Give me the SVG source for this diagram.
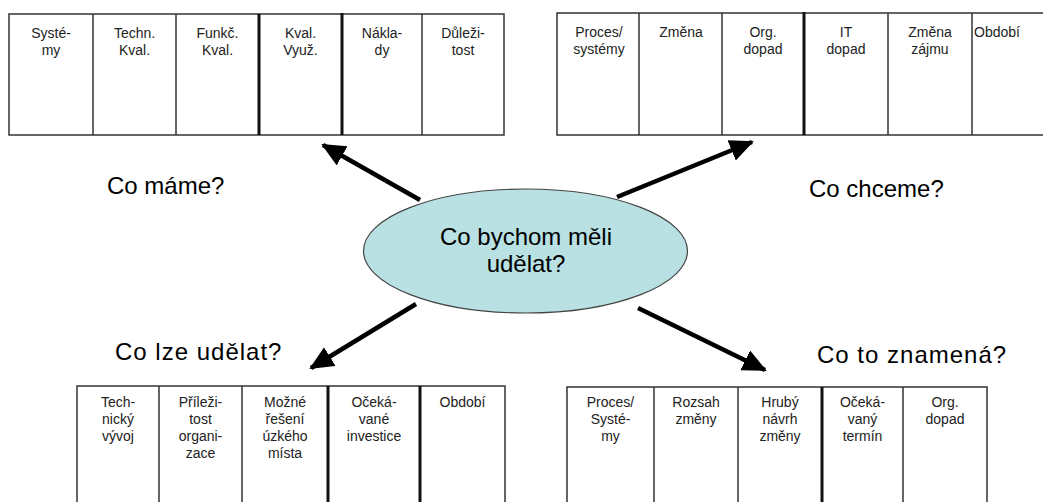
<svg xmlns="http://www.w3.org/2000/svg" width="1043" height="502" viewBox="0 0 1043 502">
  <style>
    .grid { stroke: #333; stroke-width: 1.5; fill: none; }
    .thick { stroke: #111; stroke-width: 3; }
    .cell { font-family: "Liberation Sans", Arial, sans-serif; font-size: 14px; fill: #222; text-anchor: middle; }
    .q { font-family: "Liberation Sans", Arial, sans-serif; font-size: 24px; fill: #000; }
    .wide { letter-spacing: 1px; }
    .center { font-family: "Liberation Sans", Arial, sans-serif; font-size: 24px; fill: #000; text-anchor: middle; }
    .arrow { stroke: #000; stroke-width: 4.5; fill: none; marker-end: url(#head); }
  </style>
  <defs>
    <marker id="head" markerUnits="userSpaceOnUse" markerWidth="26" markerHeight="24" refX="22" refY="11" orient="auto">
      <path d="M0,0 L24,11 L0,22 Z" fill="#000"/>
    </marker>
  </defs>
  <rect width="1043" height="502" fill="#fff"/>

  <!-- Top-left table: current state -->
  <g id="table-have">
    <rect class="grid" x="9" y="14" width="495" height="121"/>
    <line class="grid" x1="93" y1="14" x2="93" y2="135"/>
    <line class="grid" x1="176" y1="14" x2="176" y2="135"/>
    <line class="grid thick" x1="259" y1="14" x2="259" y2="135"/>
    <line class="grid thick" x1="342" y1="13" x2="342" y2="135"/>
    <line class="grid" x1="422" y1="14" x2="422" y2="135"/>
    <text class="cell" x="51" y="38">Systé-<tspan x="51" dy="17">my</tspan></text>
    <text class="cell" x="134.5" y="38">Techn.<tspan x="134.5" dy="17">Kval.</tspan></text>
    <text class="cell" x="217.5" y="38">Funkč.<tspan x="217.5" dy="17">Kval.</tspan></text>
    <text class="cell" x="300.5" y="38">Kval.<tspan x="300.5" dy="17">Využ.</tspan></text>
    <text class="cell" x="382" y="38">Nákla-<tspan x="382" dy="17">dy</tspan></text>
    <text class="cell" x="463" y="38">Důleži-<tspan x="463" dy="17">tost</tspan></text>
  </g>

  <!-- Top-right table: target state -->
  <g id="table-want">
    <rect class="grid" x="557" y="13" width="490" height="122"/>
    <line class="grid" x1="639" y1="13" x2="639" y2="135"/>
    <line class="grid" x1="722" y1="13" x2="722" y2="135"/>
    <line class="grid thick" x1="804" y1="12" x2="804" y2="135"/>
    <line class="grid" x1="888" y1="13" x2="888" y2="135"/>
    <line class="grid" x1="972" y1="13" x2="972" y2="135"/>
    <text class="cell" x="599" y="37">Proces/<tspan x="599" dy="17">systémy</tspan></text>
    <text class="cell" x="681" y="37">Změna</text>
    <text class="cell" x="763" y="37">Org.<tspan x="763" dy="17">dopad</tspan></text>
    <text class="cell" x="846" y="37">IT<tspan x="846" dy="17">dopad</tspan></text>
    <text class="cell" x="930" y="37">Změna<tspan x="930" dy="17">zájmu</tspan></text>
    <text class="cell" x="997" y="37">Období</text>
  </g>

  <!-- Bottom-left table: options -->
  <g id="table-can">
    <path class="grid" d="M77,510 V386 H505 V510"/>
    <line class="grid" x1="159" y1="386" x2="159" y2="510"/>
    <line class="grid" x1="242" y1="386" x2="242" y2="510"/>
    <line class="grid thick" x1="328" y1="386" x2="328" y2="510"/>
    <line class="grid thick" x1="420" y1="386" x2="420" y2="510"/>
    <text class="cell" x="118" y="407">Tech-<tspan x="118" dy="17">nický</tspan><tspan x="118" dy="17">vývoj</tspan></text>
    <text class="cell" x="200.5" y="407">Příleži-<tspan x="200.5" dy="17">tost</tspan><tspan x="200.5" dy="17">organi-</tspan><tspan x="200.5" dy="17">zace</tspan></text>
    <text class="cell" x="285" y="407">Možné<tspan x="285" dy="17">řešení</tspan><tspan x="285" dy="17">úzkého</tspan><tspan x="285" dy="17">místa</tspan></text>
    <text class="cell" x="374" y="407">Očeká-<tspan x="374" dy="17">vané</tspan><tspan x="374" dy="17">investice</tspan></text>
    <text class="cell" x="462.5" y="407">Období</text>
  </g>

  <!-- Bottom-right table: consequences -->
  <g id="table-means">
    <path class="grid" d="M567,510 V387 H987 V510"/>
    <line class="grid" x1="654" y1="387" x2="654" y2="510"/>
    <line class="grid" x1="738" y1="387" x2="738" y2="510"/>
    <line class="grid thick" x1="822" y1="387" x2="822" y2="510"/>
    <line class="grid" x1="903" y1="387" x2="903" y2="510"/>
    <text class="cell" x="610.5" y="407">Proces/<tspan x="610.5" dy="17">Systé-</tspan><tspan x="610.5" dy="17">my</tspan></text>
    <text class="cell" x="696" y="407">Rozsah<tspan x="696" dy="17">změny</tspan></text>
    <text class="cell" x="780" y="407">Hrubý<tspan x="780" dy="17">návrh</tspan><tspan x="780" dy="17">změny</tspan></text>
    <text class="cell" x="862.5" y="407">Očeká-<tspan x="862.5" dy="17">vaný</tspan><tspan x="862.5" dy="17">termín</tspan></text>
    <text class="cell" x="945" y="407">Org.<tspan x="945" dy="17">dopad</tspan></text>
  </g>

  <!-- Central question -->
  <g id="center">
    <ellipse cx="525.5" cy="251" rx="162" ry="62" fill="#b9e0e3" stroke="#444" stroke-width="1.2"/>
    <text class="center" x="526" y="245">Co bychom měli</text>
    <text class="center" x="526" y="272">udělat?</text>
  </g>

  <!-- Question labels -->
  <g id="label-have"><text class="q" x="107" y="194">Co máme?</text></g>
  <g id="label-want"><text class="q" x="809" y="197">Co chceme?</text></g>
  <g id="label-can"><text class="q wide" x="115" y="360">Co lze udělat?</text></g>
  <g id="label-means"><text class="q wide" x="817" y="363">Co to znamená?</text></g>

  <!-- Connectors -->
  <g id="connectors">
    <line class="arrow" x1="420" y1="200" x2="323" y2="145"/>
    <line class="arrow" x1="617" y1="197" x2="752" y2="142"/>
    <line class="arrow" x1="416" y1="304" x2="311" y2="368"/>
    <line class="arrow" x1="638" y1="308" x2="765" y2="370"/>
  </g>
</svg>
